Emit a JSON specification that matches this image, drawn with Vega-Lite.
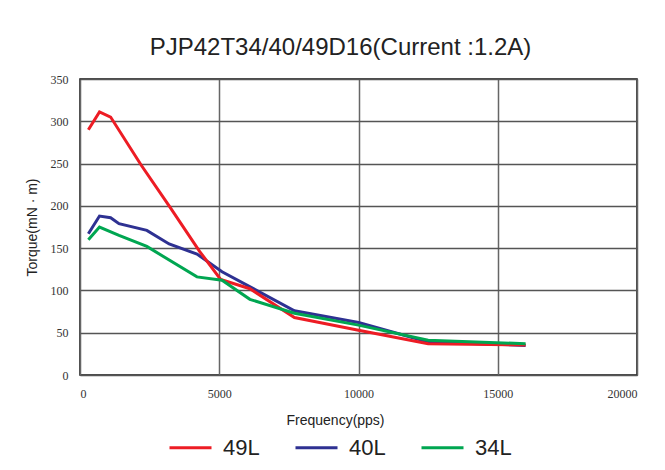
{
  "$schema": "https://vega.github.io/schema/vega-lite/v6.json",
  "autosize": {"type": "none"},
  "width": 557,
  "height": 296,
  "padding": {"left": 80, "top": 79, "right": 28, "bottom": 95},
  "background": "white",
  "title": {
    "text": "PJP42T34/40/49D16(Current :1.2A)",
    "font": "Liberation Sans",
    "fontSize": 24,
    "fontWeight": "normal",
    "color": "#222222",
    "anchor": "middle",
    "frame": "group",
    "dx": -18,
    "dy": 28,
    "baseline": "alphabetic",
    "offset": 22
  },
  "data": {
    "values": [
      {"series": "40L", "freq": 300, "torque": 167},
      {"series": "40L", "freq": 700, "torque": 188},
      {"series": "40L", "freq": 1100, "torque": 186},
      {"series": "40L", "freq": 1400, "torque": 179},
      {"series": "40L", "freq": 2400, "torque": 171},
      {"series": "40L", "freq": 3200, "torque": 155},
      {"series": "40L", "freq": 4200, "torque": 143},
      {"series": "40L", "freq": 5100, "torque": 122},
      {"series": "40L", "freq": 7700, "torque": 76},
      {"series": "40L", "freq": 10000, "torque": 62},
      {"series": "40L", "freq": 12500, "torque": 39},
      {"series": "40L", "freq": 16000, "torque": 35},
      {"series": "49L", "freq": 300, "torque": 290},
      {"series": "49L", "freq": 700, "torque": 311},
      {"series": "49L", "freq": 1100, "torque": 305},
      {"series": "49L", "freq": 2200, "torque": 248},
      {"series": "49L", "freq": 3200, "torque": 200},
      {"series": "49L", "freq": 4300, "torque": 146},
      {"series": "49L", "freq": 5050, "torque": 113},
      {"series": "49L", "freq": 6100, "torque": 102},
      {"series": "49L", "freq": 7700, "torque": 68},
      {"series": "49L", "freq": 10000, "torque": 53},
      {"series": "49L", "freq": 12500, "torque": 37},
      {"series": "49L", "freq": 16000, "torque": 35.5},
      {"series": "34L", "freq": 300, "torque": 160},
      {"series": "34L", "freq": 700, "torque": 175},
      {"series": "34L", "freq": 1400, "torque": 165},
      {"series": "34L", "freq": 2400, "torque": 152},
      {"series": "34L", "freq": 4200, "torque": 116},
      {"series": "34L", "freq": 5100, "torque": 112},
      {"series": "34L", "freq": 6100, "torque": 89.5},
      {"series": "34L", "freq": 7700, "torque": 73},
      {"series": "34L", "freq": 10000, "torque": 59},
      {"series": "34L", "freq": 12500, "torque": 41},
      {"series": "34L", "freq": 16000, "torque": 37}
    ]
  },
  "mark": {"type": "line", "strokeWidth": 3, "clip": true},
  "encoding": {
    "x": {
      "field": "freq",
      "type": "quantitative",
      "scale": {"domain": [0, 20000], "nice": false, "zero": true},
      "axis": {
        "title": "Frequency(pps)",
        "values": [0, 5000, 10000, 15000, 20000],
        "format": "d",
        "labelFont": "Liberation Serif",
        "labelFontSize": 12,
        "labelColor": "#333333",
        "labelPadding": 13,
        "ticks": false,
        "domain": false,
        "grid": true,
        "gridColor": "#666666",
        "gridWidth": 1.5,
        "titleFont": "Liberation Sans",
        "titleFontSize": 14,
        "titleFontWeight": "normal",
        "titleColor": "#222222",
        "titlePadding": 14,
        "titleX": 255
      }
    },
    "y": {
      "field": "torque",
      "type": "quantitative",
      "scale": {"domain": [0, 350], "nice": false},
      "axis": {
        "title": "Torque(mN · m)",
        "values": [0, 50, 100, 150, 200, 250, 300, 350],
        "labelFont": "Liberation Serif",
        "labelFontSize": 12,
        "labelColor": "#333333",
        "labelPadding": 12,
        "ticks": false,
        "domain": false,
        "grid": true,
        "gridColor": "#555555",
        "gridWidth": 1.5,
        "titleFont": "Liberation Sans",
        "titleFontSize": 14,
        "titleFontWeight": "normal",
        "titleColor": "#222222",
        "titlePadding": 11
      }
    },
    "color": {
      "field": "series",
      "type": "nominal",
      "scale": {"domain": ["49L", "40L", "34L"], "range": ["#ed1c24", "#2e3192", "#00a651"]},
      "legend": {
        "title": null,
        "orient": "none",
        "legendX": 88,
        "legendY": 346,
        "direction": "horizontal",
        "symbolType": "stroke",
        "symbolSize": 1764,
        "symbolStrokeWidth": 3,
        "labelFont": "Liberation Sans",
        "labelFontSize": 22,
        "labelColor": "#222222",
        "labelOffset": 10,
        "columnPadding": 29
      }
    },
    "order": {"field": "series"}
  },
  "config": {
    "view": {"stroke": "#111111", "strokeWidth": 1.5}
  }
}
